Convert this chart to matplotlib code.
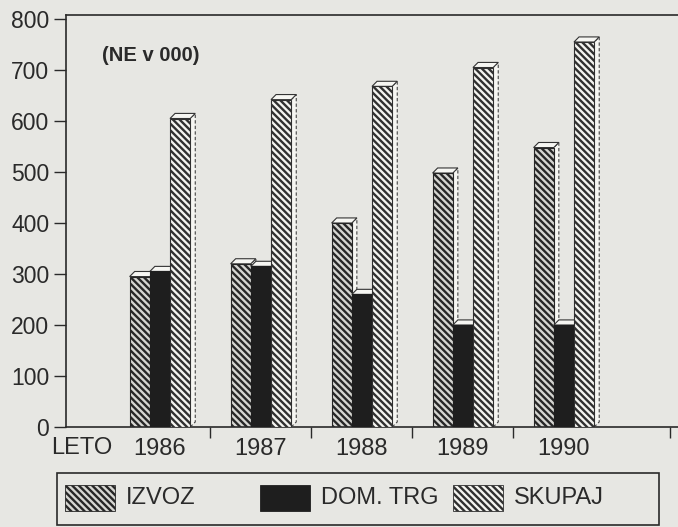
import matplotlib.pyplot as plt
from matplotlib.patches import Polygon, Rectangle
import numpy as np

plt.rcParams['font.family'] = ['Liberation Sans', 'DejaVu Sans']
plt.rcParams['hatch.linewidth'] = 1.7

# data (thousands)
years = ['1986', '1987', '1988', '1989', '1990']
izvoz = [295, 320, 400, 498, 548]
dom_trg = [305, 315, 260, 200, 200]
skupaj = [605, 642, 668, 705, 755]
series_names = ['IZVOZ', 'DOM. TRG', 'SKUPAJ']

bg = '#e7e7e3'
ink = '#2a2a2a'
W, H = 678, 527

fig = plt.figure(figsize=(6.78, 5.27), dpi=100, facecolor=bg)
ax = fig.add_axes([66 / W, 1 - 427 / H, 1 - 66 / W, (427 - 15) / H])
ax.set_facecolor(bg)

x = np.arange(1, len(years) + 1)
width = 0.2
dx, dy = 0.05, 10

styles = [
    dict(facecolor='#d6d6d2', edgecolor='#262626', hatch='\\\\\\\\\\'),
    dict(facecolor='#1e1e1e', edgecolor='#1e1e1e', hatch=None),
    dict(facecolor='#f4f4f0', edgecolor='#303030', hatch='\\\\\\\\\\'),
]

for k, values in enumerate([izvoz, dom_trg, skupaj]):
    off = (k - 1) * width
    for xi, h in zip(x, values):
        x0 = xi + off - width / 2
        x1 = x0 + width
        # depth side and top (3d look)
        side = Polygon([(x1, 0), (x1 + dx, dy), (x1 + dx, h + dy), (x1, h)],
                       closed=True, facecolor='#f6f6f2', edgecolor='#444444',
                       linestyle=(0, (3, 2)), linewidth=0.8, zorder=2 + k)
        top = Polygon([(x0, h), (x0 + dx, h + dy), (x1 + dx, h + dy), (x1, h)],
                      closed=True, facecolor='#f6f6f2', edgecolor='#333333',
                      linewidth=0.8, zorder=2 + k)
        ax.add_patch(side)
        ax.add_patch(top)
    ax.bar(x + off, values, width, zorder=2.5 + k, linewidth=0.8, **styles[k])

ax.set_xlim(0.07, 6.13)
ax.set_ylim(0, 808)
ax.set_yticks(np.arange(0, 801, 100))
ax.tick_params(axis='y', labelsize=16.5, colors=ink, length=9, width=1, pad=3)
ax.set_xticks(x)
ax.set_xticklabels(years)
ax.tick_params(axis='x', labelsize=17, colors=ink, length=0, pad=8)
ax.set_xticks([1.5, 2.5, 3.5, 4.5, 6.05], minor=True)
ax.tick_params(axis='x', which='minor', length=8, width=1, color=ink)
ax.text(82 / W, 1 - 448 / H, 'LETO', transform=fig.transFigure,
        ha='center', va='center', fontsize=17, color=ink)
ax.text(0.43, 729, '(NE v 000)', fontsize=14.5, fontweight='bold',
        color=ink, va='center')

for s in ['left', 'bottom', 'top']:
    ax.spines[s].set_color(ink)
    ax.spines[s].set_linewidth(1.2)
ax.spines['right'].set_visible(False)

# legend drawn as a box with three fixed-width entries
fig.patches.append(Rectangle((57 / W, 1 - 525 / H), (659 - 57) / W, 52 / H,
                             transform=fig.transFigure, facecolor=bg,
                             edgecolor=ink, linewidth=1.2))
entry_x = [65, 260, 453]
for k, name in enumerate(series_names):
    px = entry_x[k]
    fig.patches.append(Rectangle((px / W, 1 - 511 / H), 50 / W, 26 / H,
                                 transform=fig.transFigure, linewidth=0.6,
                                 **styles[k]))
    fig.text((px + 61) / W, 1 - 498 / H, name, fontsize=17, color=ink,
             ha='left', va='center')

fig.savefig('out.png', dpi=100, facecolor=bg)
